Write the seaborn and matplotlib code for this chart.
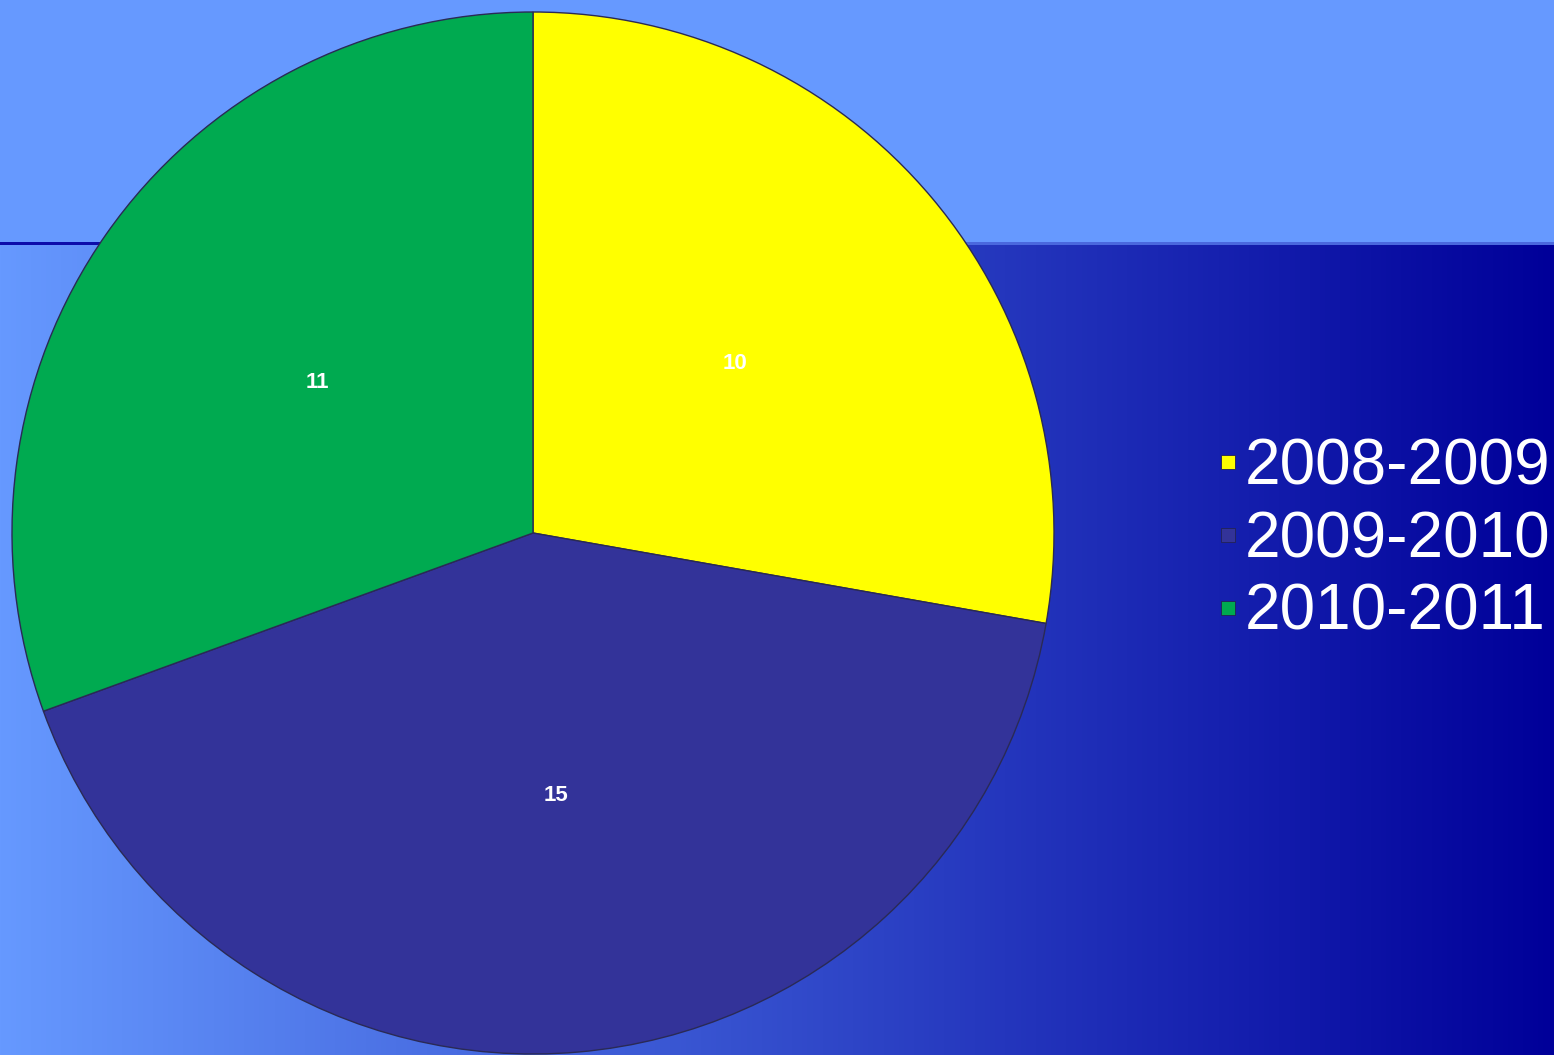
import numpy as np
import seaborn as sns
import matplotlib.pyplot as plt
from matplotlib.lines import Line2D

sns.set_theme(style='white')
plt.rcParams['font.family'] = ['Liberation Sans', 'DejaVu Sans']

# data
seasons = ['2008-2009', '2009-2010', '2010-2011']
counts = [10, 15, 11]
colors = ['#FFFF00', '#333399', '#00AA50']

W, H = 1554, 1055
fig = plt.figure(figsize=(W / 100, H / 100), dpi=100)

# slide background: light band on top, left-to-right gradient below
bg = np.zeros((H, W, 3))
light = np.array([102, 153, 255]) / 255
dark = np.array([0, 0, 153]) / 255
t = np.linspace(0, 1, W)[:, None]
grad = light * (1 - t) + dark * t
bg[:, :, :] = grad[None, :, :]
bg[:242, :, :] = light
bg[242:245, :500, :] = np.array([12, 12, 170]) / 255
bg[242:245, 500:, :] = np.array([74, 104, 222]) / 255
bax = fig.add_axes([0, 0, 1, 1])
bax.imshow(bg, aspect='auto', interpolation='bilinear')
bax.axis('off')

# pie
cx, cy, r = 533, 533, 521
ax = fig.add_axes([(cx - r) / W, (H - cy - r) / H, 2 * r / W, 2 * r / H])
wedges, texts = ax.pie(counts, colors=colors, startangle=90, counterclock=False,
                       radius=1, labels=[str(c) for c in counts], labeldistance=0.505,
                       wedgeprops=dict(edgecolor='#2a2a55', linewidth=1.0),
                       textprops=dict(color='white', fontsize=16, fontweight='bold',
                                      ha='center', va='center'))
ax.set_xlim(-1, 1)
ax.set_ylim(-1, 1)
ax.axis('off')

handles = [Line2D([], [], linestyle='none', marker='s', markersize=9.5,
                  markerfacecolor=c, markeredgecolor='#222255', markeredgewidth=0.6)
           for c in colors]
fig.legend(handles, seasons, loc='center left', bbox_to_anchor=(0.784, 0.488),
           frameon=False, fontsize=46, labelcolor='white', handlelength=0.3,
           handletextpad=0.12, labelspacing=0.2, borderpad=0, borderaxespad=0)

fig.savefig('out.png', dpi=100)
